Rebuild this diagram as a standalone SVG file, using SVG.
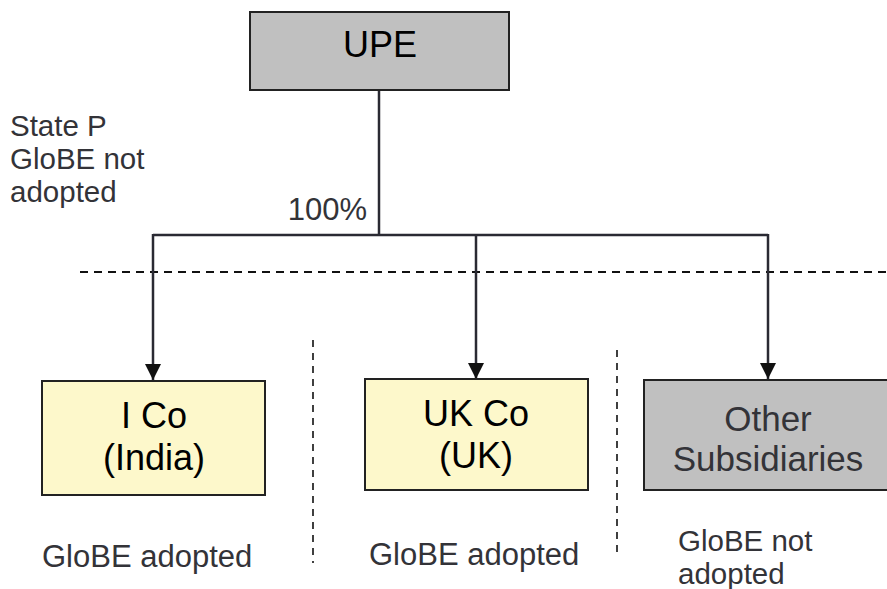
<svg xmlns="http://www.w3.org/2000/svg" width="887" height="589" viewBox="0 0 887 589">
<style>
.box{stroke:#222;stroke-width:2}
.grey{fill:#c0c0c0}
.yellow{fill:#fdf8cb}
.nt{font-family:"Liberation Sans",Arial,sans-serif;font-size:36px;text-anchor:middle;fill:#000}
.ot{font-family:"Liberation Sans",Arial,sans-serif;font-size:35px;text-anchor:middle;fill:#333338}
.lt{font-family:"Liberation Sans",Arial,sans-serif;font-size:31px;fill:#333338}
.st{font-family:"Liberation Sans",Arial,sans-serif;font-size:29.5px;fill:#333338}
.conn{stroke:#2a2a33;stroke-width:2.5;fill:none}
.dash{stroke:#111;stroke-width:2;stroke-dasharray:8 6;fill:none}
.vdash{stroke:#111;stroke-width:1.6;stroke-dasharray:7 6;fill:none}
</style>
<defs>
<marker id="arr" markerWidth="16" markerHeight="16" refX="16" refY="8" orient="auto" markerUnits="userSpaceOnUse" viewBox="0 0 16 16">
<path d="M0,0 L16,8 L0,16 Z" fill="#111"/>
</marker>
</defs>
<rect width="887" height="589" fill="#fff"/>
<g id="separators">
<line class="dash" x1="80" y1="272" x2="887" y2="272"/>
<line class="vdash" x1="313" y1="340" x2="313" y2="563"/>
<line class="vdash" x1="617" y1="350" x2="617" y2="554"/>
</g>
<g id="connectors">
<polyline class="conn" points="379,90 379,235"/>
<polyline class="conn" points="153,235 768,235"/>
<line class="conn" x1="153" y1="234" x2="153" y2="380" marker-end="url(#arr)"/>
<line class="conn" x1="476" y1="234" x2="476" y2="379" marker-end="url(#arr)"/>
<line class="conn" x1="768" y1="234" x2="768" y2="379" marker-end="url(#arr)"/>
</g>
<g id="upe">
<rect class="box grey" x="250" y="12" width="259" height="78"/>
<text class="nt" x="380" y="57">UPE</text>
</g>
<g id="ico">
<rect class="box yellow" x="42" y="381" width="223" height="114"/>
<text class="nt" x="154" y="428">I Co</text>
<text class="nt" x="154" y="470">(India)</text>
</g>
<g id="ukco">
<rect class="box yellow" x="365" y="379" width="223" height="111"/>
<text class="nt" x="476" y="426">UK Co</text>
<text class="nt" x="476" y="468">(UK)</text>
</g>
<g id="others">
<rect class="box grey" x="644" y="380" width="260" height="110"/>
<text class="ot" x="768" y="431">Other</text>
<text class="ot" x="768" y="471">Subsidiaries</text>
</g>
<g id="labels">
<text class="st" x="10" y="136">State P</text>
<text class="st" x="10" y="169">GloBE not</text>
<text class="st" x="10" y="202">adopted</text>
<text class="lt" x="367" y="220" text-anchor="end">100%</text>
<text class="lt" x="42" y="567">GloBE adopted</text>
<text class="lt" x="369" y="565">GloBE adopted</text>
<text class="st" x="678" y="551">GloBE not</text>
<text class="st" x="678" y="584">adopted</text>
</g>
</svg>
